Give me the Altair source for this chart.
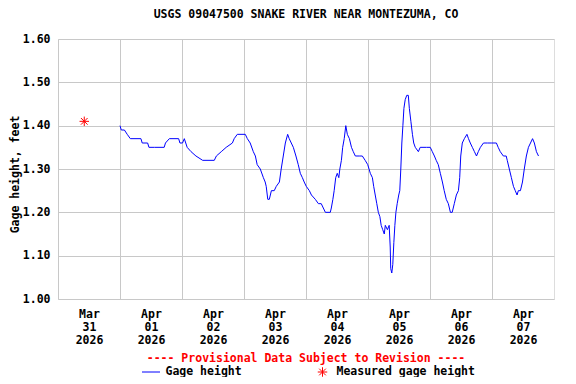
import altair as alt
import pandas as pd

FONT = "DejaVu Sans Mono"
TITLE = "USGS 09047500 SNAKE RIVER NEAR MONTEZUMA, CO"

# Gage height series: hours after 2026-04-01 00:00 and gage height (feet)
hours = [0.0, 0.5, 1.7, 2.8, 4.0, 8.1, 8.6, 10.7, 11.2, 13.3, 17.1, 17.6, 19.1, 22.7, 23.2, 24.2, 24.9,
         26.0, 27.5, 29.4, 32.0, 36.5, 37.3, 39.2, 41.1, 43.5, 44.2, 45.4, 48.5, 49.3, 50.4, 51.6,
         52.4, 53.1, 54.3, 55.5, 56.2, 56.6, 57.2, 57.8, 58.6, 59.7, 60.5, 61.7, 62.4, 63.2, 64.0,
         64.9, 65.5, 66.3, 67.1, 68.1, 69.0, 69.8, 70.6, 71.3, 72.1, 73.3, 74.1, 75.6, 76.8, 77.9,
         78.7, 79.5, 81.4, 81.8, 82.4, 82.9, 83.5, 84.1, 84.7, 85.1, 85.7, 86.2, 86.8, 87.4, 88.0,
         88.8, 89.6, 90.3, 91.1, 92.6, 93.8, 94.9, 95.9, 96.9, 97.7, 98.2, 98.8, 99.4, 100.0,
         100.6, 101.1, 101.7, 102.3, 102.7, 103.5, 104.2, 104.6, 104.8, 105.2, 105.6, 106.0,
         106.4, 106.8, 107.3, 107.9, 108.3, 108.7, 109.1, 109.5, 109.9, 110.4, 111.0, 111.6,
         112.0, 112.6, 113.2, 113.7, 114.3, 115.5, 116.2, 118.6, 120.1, 120.9, 121.7, 122.4,
         123.2, 124.0, 124.8, 125.5, 126.3, 127.1, 127.9, 128.6, 129.4, 130.2, 131.0, 131.5,
         131.9, 132.5, 133.3, 134.3, 134.9, 135.6, 136.4, 137.2, 138.0, 138.7, 139.5, 140.7,
         142.2, 143.7, 145.7, 146.4, 147.2, 148.4, 149.5, 149.9, 150.7, 151.5, 152.3, 153.0,
         153.7, 154.2, 155.0, 155.8, 156.5, 157.3, 158.1, 158.9, 159.7, 160.4, 161.2, 162.0]
gage = [1.40, 1.39, 1.39, 1.38, 1.37, 1.37, 1.36, 1.36, 1.35, 1.35, 1.35, 1.36, 1.37, 1.37, 1.36, 1.36, 1.37,
        1.35, 1.34, 1.33, 1.32, 1.32, 1.33, 1.34, 1.35, 1.36, 1.37, 1.38, 1.38, 1.37, 1.36, 1.34,
        1.33, 1.31, 1.30, 1.28, 1.27, 1.26, 1.23, 1.23, 1.25, 1.25, 1.26, 1.27, 1.30, 1.33, 1.36,
        1.38, 1.37, 1.36, 1.35, 1.33, 1.31, 1.29, 1.28, 1.27, 1.26, 1.25, 1.24, 1.23, 1.22, 1.22,
        1.21, 1.20, 1.20, 1.21, 1.23, 1.25, 1.28, 1.29, 1.28, 1.30, 1.32, 1.35, 1.37, 1.40, 1.38,
        1.37, 1.35, 1.34, 1.33, 1.33, 1.33, 1.32, 1.31, 1.29, 1.28, 1.26, 1.24, 1.22, 1.20,
        1.19, 1.17, 1.16, 1.15, 1.17, 1.16, 1.17, 1.12, 1.07, 1.06, 1.08, 1.13,
        1.17, 1.20, 1.22, 1.24, 1.25, 1.30, 1.36, 1.40, 1.44, 1.46, 1.47, 1.47,
        1.44, 1.41, 1.38, 1.36, 1.35, 1.34, 1.35, 1.35, 1.35, 1.34, 1.33, 1.32,
        1.31, 1.29, 1.27, 1.25, 1.23, 1.22, 1.20, 1.20, 1.22, 1.24, 1.25, 1.28,
        1.33, 1.36, 1.37, 1.38, 1.37, 1.36, 1.35, 1.34, 1.33, 1.34, 1.35, 1.36,
        1.36, 1.36, 1.36, 1.35, 1.34, 1.33, 1.33, 1.32, 1.30, 1.28, 1.26, 1.25,
        1.24, 1.25, 1.25, 1.27, 1.30, 1.33, 1.35, 1.36, 1.37, 1.36, 1.34, 1.33]

meas_time = ["2026-03-31T10:10:00"]
meas_value = [1.41]

day_dates = [(3, 31), (4, 1), (4, 2), (4, 3), (4, 4), (4, 5), (4, 6), (4, 7)]
y_ticks = [1.00, 1.10, 1.20, 1.30, 1.40, 1.50, 1.60]

base = pd.Timestamp("2026-04-01T00:00:00")
df = pd.DataFrame({
    "time": [(base + pd.Timedelta(hours=h)).strftime("%Y-%m-%dT%H:%M:%S") for h in hours],
    "gage": gage,
})
meas = pd.DataFrame({"time": meas_time, "gage": meas_value})

STAR = "M-1,0L1,0M0,-1L0,1M-0.7,-0.7L0.7,0.7M-0.7,0.7L0.7,-0.7"
GRID = "#c8c8c8"

xscale = alt.Scale(domain=[alt.DateTime(year=2026, month=3, date=31),
                           alt.DateTime(year=2026, month=4, date=8)], nice=False)
yscale = alt.Scale(domain=[1.0, 1.6], nice=False, zero=False)

xaxis = alt.Axis(
    values=[alt.DateTime(year=2026, month=m, date=d) for m, d in day_dates],
    labelExpr="[timeFormat(datum.value, '%b'), timeFormat(datum.value, '%d'), timeFormat(datum.value, '%Y')]",
    labelOffset=31, labelFlush=False, labelOverlap=False, labelBound=False,
    ticks=False, tickSize=0, domain=False, grid=True, gridColor=GRID, gridOpacity=1,
    labelFont=FONT, labelFontWeight="bold", labelFontSize=11.5, labelColor="black",
    labelPadding=9, labelLineHeight=13, title=None,
)
yaxis = alt.Axis(
    values=y_ticks, format=".2f", ticks=False, tickSize=0, domain=False,
    grid=True, gridColor=GRID, gridOpacity=1,
    labelFont=FONT, labelFontWeight="bold", labelFontSize=11.5, labelColor="black",
    labelPadding=8, title="Gage height, feet", titleFont=FONT, titleFontSize=11.5,
    titleFontWeight="bold", titleColor="black", titlePadding=2, titleY=135,
)

line = alt.Chart(df).mark_line(color="#0000ff", strokeWidth=1).encode(
    x=alt.X("time:T", scale=xscale, axis=xaxis),
    y=alt.Y("gage:Q", scale=yscale, axis=yaxis),
)
star = alt.Chart(meas).mark_point(shape=STAR, filled=False, color="#ff0000",
                                  strokeWidth=1, size=90, opacity=1).encode(
    x=alt.X("time:T", scale=xscale),
    y=alt.Y("gage:Q", scale=yscale),
)

one = pd.DataFrame({"k": [0]})
prov = alt.Chart(one).mark_text(
    text="---- Provisional Data Subject to Revision ----", font=FONT, fontSize=11.5,
    fontWeight="bold", color="#ff0000", align="center", baseline="middle",
).encode(x=alt.value(248), y=alt.value(320))
leg_line = alt.Chart(one).mark_rule(color="#0000ff", strokeWidth=1).encode(
    x=alt.value(84), x2=alt.value(102), y=alt.value(333))
leg_text1 = alt.Chart(one).mark_text(
    text="Gage height", font=FONT, fontSize=11.5, fontWeight="bold", color="black",
    align="left", baseline="middle").encode(x=alt.value(107.5), y=alt.value(333))
leg_star = alt.Chart(one).mark_point(shape=STAR, filled=False, color="#ff0000",
                                     strokeWidth=1, size=90, opacity=1).encode(
    x=alt.value(264.5), y=alt.value(333))
leg_text2 = alt.Chart(one).mark_text(
    text="Measured gage height", font=FONT, fontSize=11.5, fontWeight="bold", color="black",
    align="left", baseline="middle").encode(x=alt.value(278.5), y=alt.value(333))

chart = alt.layer(line, star, prov, leg_line, leg_text1, leg_star, leg_text2).properties(
    width=496, height=260,
    title=alt.TitleParams(TITLE, font=FONT, fontSize=11.5, fontWeight="bold",
                          anchor="middle", offset=13, color="black"),
    padding={"left": 50, "top": 31, "right": 10, "bottom": 78},
    autosize=alt.AutoSizeParams(type="none"),
).configure_view(stroke="black", strokeWidth=1).configure(background="white")

chart.save("out.html", embed_options={"renderer": "svg", "actions": False})
